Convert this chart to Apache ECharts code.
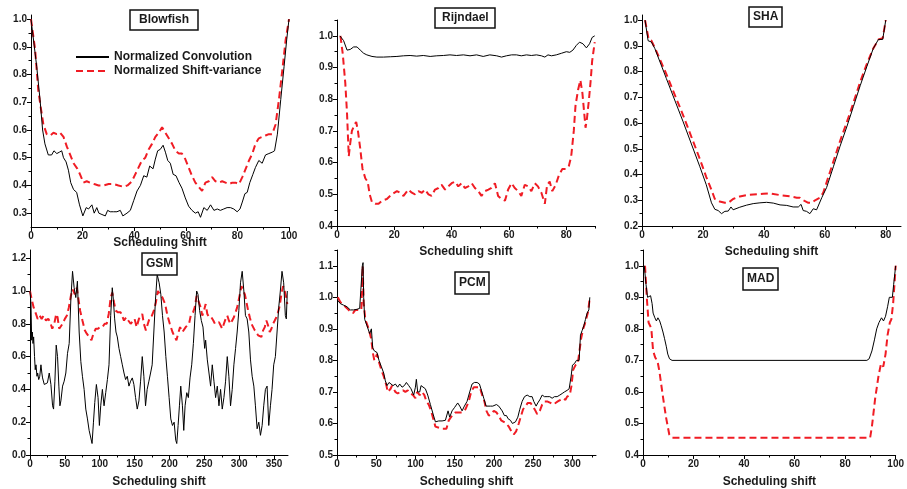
<!DOCTYPE html>
<html>
<head>
<meta charset="utf-8">
<script src="https://cdn.jsdelivr.net/npm/echarts@6/dist/echarts.min.js"></script>
<style>
  html, body { margin: 0; padding: 0; background: #fff; }
  #chart { width: 907px; height: 489px; }
</style>
</head>
<body>
<div id="chart"></div>
<script>
'use strict';

// ---- data ----
var panelNames = ['Blowfish', 'Rijndael', 'SHA', 'GSM', 'PCM', 'MAD'];
var seriesNames = ['Normalized Convolution', 'Normalized Shift-variance'];
var xName = 'Scheduling shift';

var blowfishConv = [[0,1.0],[2.2,0.83],[3.5,0.71],[4.5,0.60],[5.4,0.55],[6.7,0.51],[8.0,0.51],[8.9,0.525],[10.0,0.515],[11.0,0.52],[11.9,0.525],[12.6,0.50],[13.6,0.485],[14.5,0.455],[15.4,0.41],[16.5,0.385],[17.7,0.375],[18.8,0.33],[20.1,0.29],[21.4,0.32],[22.3,0.315],[23.6,0.33],[24.5,0.30],[25.5,0.32],[26.3,0.30],[27.5,0.295],[28.8,0.29],[29.7,0.31],[30.7,0.305],[32.0,0.305],[33.3,0.305],[34.6,0.31],[35.6,0.29],[37.2,0.30],[38.5,0.31],[39.8,0.345],[41.1,0.38],[42.4,0.40],[43.7,0.435],[44.9,0.43],[46.0,0.47],[47.3,0.46],[48.2,0.495],[49.1,0.525],[50.1,0.53],[51.2,0.545],[52.1,0.52],[53.0,0.49],[54.0,0.48],[55.1,0.44],[56.2,0.435],[57.4,0.41],[58.5,0.39],[59.8,0.355],[61.1,0.325],[62.4,0.31],[63.7,0.30],[64.8,0.305],[65.7,0.285],[67.0,0.32],[68.3,0.31],[69.6,0.33],[70.9,0.31],[72.2,0.315],[73.4,0.31],[74.7,0.315],[76.0,0.32],[77.3,0.32],[78.6,0.315],[79.9,0.305],[81.0,0.315],[81.9,0.34],[82.9,0.37],[83.8,0.375],[84.8,0.41],[86.0,0.44],[87.0,0.465],[88.3,0.49],[89.6,0.48],[90.9,0.51],[92.2,0.515],[93.5,0.52],[94.4,0.525],[95.5,0.585],[96.8,0.71],[98.1,0.83],[99.1,0.925],[100,1.0]];
var blowfishShift = [[0,1.0],[1.6,0.89],[2.8,0.745],[3.8,0.68],[4.8,0.62],[6.1,0.585],[7.4,0.58],[8.7,0.59],[10.0,0.585],[11.3,0.59],[12.6,0.575],[13.9,0.54],[15.2,0.51],[16.5,0.48],[18.0,0.46],[19.0,0.44],[20.3,0.41],[21.6,0.415],[22.9,0.41],[24.5,0.405],[26.2,0.40],[28.1,0.40],[30.1,0.405],[32.0,0.405],[33.9,0.40],[35.9,0.395],[37.4,0.40],[39.1,0.415],[40.4,0.44],[41.7,0.465],[43.0,0.49],[44.3,0.50],[45.6,0.53],[46.9,0.55],[48.2,0.575],[49.5,0.59],[50.8,0.61],[52.1,0.59],[53.4,0.57],[54.7,0.55],[56.0,0.525],[57.3,0.515],[58.5,0.515],[59.8,0.495],[61.1,0.465],[62.4,0.435],[63.7,0.41],[65.0,0.395],[66.3,0.38],[67.6,0.41],[68.9,0.415],[70.2,0.43],[71.5,0.415],[72.8,0.41],[74.1,0.415],[75.4,0.41],[76.7,0.405],[78.0,0.41],[79.3,0.41],[80.6,0.405],[81.9,0.43],[83.2,0.46],[84.5,0.49],[85.8,0.515],[87.0,0.55],[88.3,0.57],[89.6,0.575],[90.9,0.58],[92.2,0.585],[93.5,0.585],[94.8,0.62],[96.1,0.71],[97.4,0.815],[98.7,0.925],[100,1.0]];

var rijndaelConv = [[1,1.0],[2.3,0.985],[3.5,0.955],[4.6,0.957],[5.8,0.965],[7.0,0.965],[8.1,0.955],[9.3,0.945],[10.4,0.94],[12.2,0.935],[13.9,0.933],[16.2,0.933],[18.6,0.934],[20.9,0.935],[23.2,0.937],[25.5,0.938],[27.8,0.936],[30.1,0.938],[32.5,0.935],[34.8,0.937],[37.1,0.938],[39.4,0.94],[41.7,0.938],[44.1,0.94],[46.4,0.937],[48.7,0.94],[51.0,0.935],[53.3,0.94],[55.7,0.937],[57.4,0.933],[59.1,0.937],[60.9,0.94],[62.6,0.94],[64.3,0.937],[66.1,0.94],[67.8,0.938],[69.6,0.94],[71.3,0.937],[72.5,0.933],[73.6,0.94],[74.8,0.937],[76.5,0.94],[78.3,0.945],[80.0,0.95],[81.2,0.948],[82.3,0.955],[83.5,0.97],[84.6,0.98],[85.8,0.975],[87.0,0.962],[88.1,0.975],[89.0,0.995],[89.9,1.0]];
var rijndaelShift = [[1.2,1.0],[2.0,0.944],[2.9,0.85],[3.5,0.755],[4.1,0.62],[4.6,0.66],[5.2,0.70],[6.1,0.72],[6.7,0.728],[7.3,0.70],[8.1,0.645],[8.9,0.58],[9.9,0.55],[10.7,0.54],[11.4,0.50],[12.2,0.475],[13.3,0.47],[14.5,0.47],[15.7,0.48],[17.4,0.485],[19.1,0.50],[20.9,0.51],[22.0,0.505],[23.2,0.495],[24.9,0.515],[26.1,0.505],[27.2,0.50],[28.4,0.51],[29.6,0.505],[30.7,0.515],[31.9,0.50],[33.0,0.495],[34.2,0.515],[35.4,0.52],[36.5,0.53],[37.7,0.515],[38.8,0.525],[40.0,0.535],[41.2,0.54],[42.3,0.525],[43.5,0.535],[44.6,0.52],[45.8,0.525],[47.0,0.535],[48.1,0.52],[49.3,0.51],[50.4,0.495],[51.6,0.51],[52.8,0.515],[53.9,0.52],[55.1,0.535],[56.2,0.495],[57.4,0.485],[58.6,0.48],[59.7,0.515],[60.9,0.535],[62.0,0.52],[63.2,0.51],[64.3,0.495],[65.5,0.53],[66.7,0.525],[67.8,0.51],[69.0,0.535],[70.1,0.525],[71.3,0.505],[72.5,0.47],[73.3,0.53],[74.2,0.54],[75.1,0.51],[76.3,0.53],[77.4,0.56],[78.6,0.58],[79.8,0.58],[80.9,0.59],[81.7,0.62],[82.6,0.70],[83.2,0.78],[84.1,0.83],[84.9,0.86],[85.6,0.82],[86.0,0.78],[86.7,0.71],[87.2,0.74],[87.9,0.80],[88.5,0.86],[89.0,0.92],[89.9,0.98]];

var shaConv = [[1,1.0],[2,0.92],[3.1,0.915],[4.2,0.89],[8,0.773],[13.5,0.605],[19,0.43],[21.1,0.36],[22.8,0.29],[23.9,0.265],[25,0.26],[26.1,0.248],[27.2,0.257],[28.3,0.258],[29.2,0.274],[29.9,0.263],[32.1,0.273],[34.3,0.281],[36.5,0.287],[38.7,0.29],[40.9,0.292],[43.1,0.289],[45.3,0.282],[47.5,0.28],[49.6,0.274],[51.3,0.274],[52.2,0.284],[52.9,0.26],[54,0.257],[55.1,0.248],[56.2,0.267],[57.3,0.263],[59,0.31],[60.6,0.35],[62.8,0.43],[65,0.51],[67.2,0.585],[69.4,0.665],[71.6,0.745],[73.8,0.82],[75.9,0.89],[77.6,0.925],[79,0.925],[80,1.0]];
var shaShift = [[1,1.0],[2.2,0.925],[3.1,0.92],[4.7,0.88],[8,0.79],[13.5,0.63],[19,0.46],[21.1,0.39],[22.8,0.34],[23.9,0.305],[25.5,0.295],[27.2,0.29],[28.3,0.29],[29.9,0.305],[32.1,0.315],[34.3,0.32],[36.5,0.322],[39.8,0.325],[42,0.327],[45.3,0.32],[48.6,0.315],[50.8,0.31],[51.8,0.31],[52.9,0.30],[54.6,0.29],[55.7,0.29],[56.8,0.30],[58.4,0.31],[59.5,0.33],[61.7,0.41],[65,0.53],[68.3,0.64],[71.6,0.76],[73.8,0.83],[75.9,0.89],[77.6,0.925],[79,0.93],[80,1.0]];

var gsmConv = [[0,1.0],[1.4,0.92],[2.4,0.7],[3.3,0.75],[4.3,0.68],[5.2,0.72],[6.5,0.6],[7.5,0.52],[8.6,0.55],[10,0.48],[11,0.5],[12.5,0.46],[14,0.48],[15.7,0.55],[17,0.5],[18,0.47],[20.5,0.43],[23,0.42],[25,0.44],[27.6,0.5],[30,0.43],[32.4,0.3],[33.8,0.28],[35.7,0.45],[37.6,0.67],[39.5,0.6],[41.4,0.42],[42.9,0.3],[44.3,0.33],[46.7,0.42],[49,0.45],[51.4,0.5],[53.8,0.62],[56.2,0.68],[58.6,0.95],[61,1.12],[63.3,1.02],[65.7,0.96],[68,1.06],[70.5,0.75],[72.9,0.57],[75.2,0.48],[77.6,0.4],[80,0.28],[82.4,0.22],[84.8,0.15],[87,0.16],[89,0.07],[91,0.2],[92.9,0.32],[95.2,0.43],[97.6,0.35],[99.5,0.18],[101.4,0.3],[103.8,0.4],[106.2,0.3],[108.6,0.38],[111,0.46],[113.3,0.55],[115.7,0.85],[118,1.02],[119.5,0.95],[121.4,0.83],[123.3,0.75],[125.2,0.72],[127.6,0.65],[130,0.6],[132.4,0.55],[134.8,0.5],[137.1,0.46],[139.5,0.48],[141.9,0.42],[144.3,0.45],[146.7,0.47],[149,0.43],[151.4,0.35],[153.8,0.28],[156.2,0.33],[158.6,0.45],[161,0.6],[163.3,0.48],[165.7,0.3],[168,0.4],[170.5,0.45],[172.9,0.5],[175.2,0.55],[177.6,0.75],[180,0.95],[182.4,1.1],[185.2,1.05],[187.6,0.98],[190,0.85],[192.4,0.75],[194.8,0.6],[197.1,0.48],[199.5,0.35],[201.9,0.22],[204.3,0.18],[206.7,0.2],[209,0.09],[210.5,0.07],[212.4,0.18],[214.3,0.3],[216.2,0.42],[218.6,0.3],[220.5,0.15],[222.4,0.3],[224.8,0.38],[227.1,0.35],[229.5,0.47],[231.9,0.55],[234.3,0.68],[236.7,0.85],[239,1.0],[240.9,0.98],[243.3,0.88],[245.7,0.82],[248.1,0.78],[250.5,0.65],[251.9,0.7],[254.3,0.58],[256.7,0.5],[259,0.42],[261.4,0.55],[263.8,0.45],[266.2,0.35],[268.6,0.42],[271,0.3],[273.3,0.4],[275.7,0.28],[278.1,0.35],[280.5,0.45],[282.9,0.6],[285.2,0.48],[287.6,0.3],[290,0.4],[292.4,0.55],[294.8,0.65],[297.1,0.75],[299.5,0.88],[301.9,1.05],[304.3,1.12],[306.7,1.0],[309,0.85],[311.4,0.83],[313.8,0.75],[316.2,0.58],[318.6,0.48],[321,0.42],[323.3,0.3],[325.7,0.16],[328.1,0.2],[330.5,0.12],[332.9,0.18],[335.2,0.3],[337.6,0.4],[340,0.42],[342.4,0.18],[344.8,0.3],[347.1,0.4],[349.5,0.55],[351.9,0.6],[354.3,0.75],[356.7,0.9],[359,1.0],[361.4,1.12],[363.8,1.05],[366.2,0.85],[367.6,0.83],[369,1.0]];
var gsmShift = [[0,1.0],[2.4,0.95],[5.2,0.9],[8.6,0.86],[11,0.83],[13.8,0.85],[16.7,0.83],[19.5,0.85],[22.9,0.82],[26.2,0.83],[29,0.81],[31.9,0.77],[34.8,0.8],[37.6,0.86],[39.5,0.84],[41.9,0.77],[44.3,0.78],[46.7,0.8],[50,0.83],[52.9,0.85],[55.7,0.9],[58.6,0.97],[61,1.01],[64.3,0.98],[67.1,1.02],[69.5,0.95],[71.9,0.88],[75.2,0.82],[78.6,0.76],[81.4,0.74],[84.8,0.72],[88.1,0.7],[91,0.74],[94.3,0.77],[97.6,0.77],[100.5,0.78],[103.8,0.78],[107.1,0.8],[110,0.8],[112.9,0.86],[115.7,0.96],[118,0.99],[120.5,0.93],[122.9,0.88],[126.2,0.87],[130,0.87],[134.8,0.82],[138.1,0.84],[141,0.82],[144.3,0.8],[147.1,0.79],[150,0.83],[152.9,0.78],[156.2,0.83],[158.6,0.82],[161,0.86],[163.3,0.8],[166.2,0.76],[169,0.8],[171.9,0.84],[174.8,0.85],[177.6,0.88],[180.5,0.93],[183.3,1.0],[185.2,1.0],[190,0.96],[193.8,0.92],[197.1,0.85],[200.5,0.8],[204.3,0.75],[207.6,0.72],[210,0.7],[212.4,0.74],[215.2,0.78],[218.6,0.75],[221,0.74],[223.3,0.78],[225.7,0.77],[228.1,0.8],[230.5,0.85],[233.8,0.87],[236.2,0.9],[239,0.97],[241.4,0.96],[244.8,0.9],[247.1,0.85],[249.5,0.88],[251.9,0.92],[254.3,0.86],[256.7,0.84],[260,0.84],[262.9,0.82],[265.2,0.8],[267.6,0.79],[271,0.81],[273.3,0.8],[275.7,0.77],[278.1,0.8],[280.5,0.83],[282.9,0.85],[285.2,0.82],[287.6,0.8],[290,0.82],[292.4,0.84],[294.8,0.83],[297.1,0.9],[300.5,0.97],[303.3,1.03],[305.7,1.04],[308.1,0.98],[310.5,0.93],[312.9,0.88],[315.2,0.84],[317.6,0.8],[320,0.78],[322.4,0.76],[324.8,0.75],[327.1,0.73],[329.5,0.72],[331.9,0.72],[334.3,0.76],[336.7,0.78],[339,0.82],[341.4,0.79],[343.8,0.75],[346.2,0.77],[348.6,0.8],[351,0.82],[353.3,0.84],[355.7,0.87],[358.1,0.91],[360.5,0.98],[362.9,1.03],[365.2,1.0],[367.6,0.96],[369,0.92]];

var pcmConv = [[1,0.99],[4.2,0.98],[8.5,0.975],[12.7,0.97],[17,0.96],[21.2,0.96],[25.5,0.962],[28.9,0.965],[31,0.97],[32.3,1.1],[33.2,1.11],[34,1.0],[35.3,0.93],[38.2,0.91],[41.6,0.885],[43.8,0.9],[45.5,0.84],[47.6,0.83],[51,0.825],[53.5,0.8],[56.5,0.78],[59.5,0.76],[61.6,0.735],[63.7,0.72],[66.3,0.73],[68.8,0.725],[71.4,0.72],[74.4,0.725],[77.3,0.715],[79.9,0.725],[82.9,0.715],[85.8,0.72],[88.4,0.73],[91.4,0.72],[94.3,0.71],[97.7,0.69],[99.9,0.715],[101.1,0.74],[102.8,0.7],[105.4,0.7],[107.1,0.72],[109.6,0.715],[112.6,0.71],[115.6,0.69],[119,0.66],[122.4,0.63],[125.4,0.605],[129.6,0.608],[133.9,0.608],[138.1,0.61],[140.2,0.61],[141.5,0.64],[143.6,0.62],[146.6,0.64],[149.6,0.65],[152.1,0.655],[153.8,0.665],[156.4,0.655],[159.4,0.64],[162.3,0.655],[165.7,0.67],[169.1,0.7],[172.1,0.725],[175.1,0.73],[178.5,0.73],[181.5,0.725],[184,0.705],[187,0.68],[190,0.655],[192.5,0.65],[195.5,0.655],[198.5,0.655],[201,0.652],[203.1,0.66],[206.1,0.655],[208.2,0.66],[210.4,0.64],[213.3,0.625],[215.9,0.625],[218,0.615],[221,0.61],[223.5,0.6],[225.2,0.595],[227.4,0.605],[230.4,0.62],[232.9,0.645],[235.9,0.67],[238.9,0.685],[242.3,0.69],[245.7,0.685],[248.6,0.685],[250.7,0.67],[253.7,0.655],[255.8,0.665],[258.4,0.675],[261.4,0.69],[264.3,0.685],[267.7,0.685],[271.1,0.685],[274.1,0.68],[277.1,0.685],[280.5,0.685],[283.9,0.69],[286.9,0.695],[289.8,0.7],[293.2,0.705],[295.8,0.71],[298.3,0.75],[300,0.785],[302.6,0.79],[305.1,0.8],[306.8,0.795],[308.5,0.8],[310.2,0.88],[312.4,0.895],[314.5,0.91],[316.6,0.93],[318.7,0.95],[320.9,0.96],[322.1,1.0]];
var pcmShift = [[1,1.0],[4.2,0.985],[8.5,0.975],[12.7,0.965],[17,0.955],[20.4,0.95],[23.4,0.96],[27.6,0.96],[31,0.96],[32.7,1.1],[34,0.98],[36.1,0.93],[40.4,0.9],[43.4,0.87],[46,0.82],[47.6,0.8],[51,0.82],[54,0.79],[56.5,0.77],[59.5,0.75],[63,0.72],[64.6,0.7],[68.3,0.71],[70.1,0.72],[74.4,0.7],[77.3,0.695],[80.7,0.7],[84.2,0.705],[87.1,0.7],[90.1,0.705],[93.5,0.695],[96.9,0.69],[99.9,0.68],[102,0.7],[105.4,0.69],[108.4,0.7],[111.3,0.69],[113.9,0.67],[116.9,0.66],[119.9,0.64],[123.2,0.61],[125.4,0.59],[127.5,0.59],[133.9,0.583],[139.4,0.583],[142.4,0.61],[146.6,0.625],[150.8,0.635],[155.1,0.635],[159.4,0.635],[163.6,0.645],[167.9,0.67],[170.9,0.7],[174.3,0.715],[178.5,0.715],[181.9,0.715],[184.9,0.69],[187.8,0.67],[190.4,0.64],[193.4,0.625],[196.4,0.63],[199.8,0.64],[203.1,0.635],[206.1,0.625],[209.1,0.61],[212.5,0.605],[215.9,0.6],[218.8,0.59],[222.2,0.575],[225.2,0.565],[228.2,0.575],[231.6,0.6],[234.6,0.625],[237.1,0.645],[240.1,0.655],[243.1,0.665],[246.5,0.665],[249.5,0.655],[252.9,0.64],[255,0.63],[258.4,0.64],[261.4,0.66],[264.3,0.67],[267.7,0.67],[272,0.665],[275.4,0.66],[278.4,0.665],[281.3,0.67],[284.7,0.675],[288.1,0.68],[291.1,0.675],[293.2,0.685],[296.6,0.69],[298.8,0.72],[300.9,0.77],[303.9,0.785],[306.8,0.79],[309.3,0.785],[311.1,0.87],[313.6,0.9],[315.7,0.915],[317.9,0.935],[320,0.955],[322.1,1.0]];

var madConv = [[0.5,1.0],[1.2,0.94],[1.8,0.9],[2.5,0.895],[3,0.905],[3.6,0.88],[4,0.85],[4.7,0.835],[5.3,0.825],[5.9,0.835],[6.6,0.825],[7.2,0.81],[7.9,0.79],[8.5,0.77],[9.2,0.745],[9.8,0.72],[10.5,0.705],[11.5,0.7],[88.6,0.7],[89.5,0.705],[90.6,0.73],[91.6,0.765],[92.5,0.8],[93.4,0.82],[94.4,0.835],[95.2,0.825],[96,0.84],[96.8,0.87],[97.5,0.9],[98.1,0.905],[98.7,0.9],[99.2,0.94],[100,1.0]];
var madShift = [[0.8,1.0],[1.5,0.9],[2.2,0.82],[2.8,0.81],[3.3,0.8],[4,0.73],[4.8,0.71],[5.8,0.695],[6.5,0.665],[7.8,0.59],[9.1,0.52],[10.4,0.465],[11.5,0.455],[89.9,0.455],[90.6,0.49],[91.9,0.58],[93.2,0.65],[94.2,0.69],[95.1,0.68],[96,0.72],[96.8,0.78],[97.7,0.82],[98.3,0.83],[99,0.88],[99.6,0.95],[100,1.0]];

// tick values (major / minor) per panel
var xTicks = [[0,20,40,60,80,100],[0,20,40,60,80],[0,20,40,60,80],[0,50,100,150,200,250,300,350],[0,50,100,150,200,250,300],[0,20,40,60,80,100]];
var xMinor = [[10,30,50,70,90],[10,30,50,70,90],[10,30,50,70],[25,75,125,175,225,275,325],[25,75,125,175,225,275,325],[10,30,50,70,90]];
var yTicks = [[0.3,0.4,0.5,0.6,0.7,0.8,0.9,1.0],[0.4,0.5,0.6,0.7,0.8,0.9,1.0],[0.2,0.3,0.4,0.5,0.6,0.7,0.8,0.9,1.0],[0,0.2,0.4,0.6,0.8,1.0,1.2],[0.5,0.6,0.7,0.8,0.9,1.0,1.1],[0.4,0.5,0.6,0.7,0.8,0.9,1.0]];
var yMinor = [[0.35,0.45,0.55,0.65,0.75,0.85,0.95],[0.45,0.55,0.65,0.75,0.85,0.95,1.05],[0.25,0.35,0.45,0.55,0.65,0.75,0.85,0.95],[0.1,0.3,0.5,0.7,0.9,1.1],[0.55,0.65,0.75,0.85,0.95,1.05,1.15],[0.45,0.55,0.65,0.75,0.85,0.95,1.05]];

var convData = [blowfishConv, rijndaelConv, shaConv, gsmConv, pcmConv, madConv];
var shiftData = [blowfishShift, rijndaelShift, shaShift, gsmShift, pcmShift, madShift];

// ---- layout ----
var layout = [
  { grid: { left: 31,  top: 15,  width: 258, height: 212 }, x: [0, 100], y: [0.25, 1.015], gap: 10, t: [130, 10, 4, 9] },
  { grid: { left: 337, top: 20,  width: 258, height: 206 }, x: [0, 90],  y: [0.4, 1.05],   gap: 20, t: [435, 8, 4, 7] },
  { grid: { left: 642, top: 15,  width: 259, height: 211 }, x: [0, 85],  y: [0.2, 1.02],   gap: 20, t: [749, 7, 4, 4] },
  { grid: { left: 30,  top: 250, width: 258, height: 206 }, x: [0, 370], y: [0, 1.25],     gap: 21, t: [142, 253, 5, 4] },
  { grid: { left: 337, top: 250, width: 259, height: 206 }, x: [0, 330], y: [0.5, 1.15],   gap: 21, t: [455, 272, 5, 4] },
  { grid: { left: 643, top: 250, width: 258, height: 206 }, x: [0, 100], y: [0.4, 1.05],   gap: 21, t: [743, 268, 5, 4] }
];

var FONT = '"Liberation Sans", Arial, sans-serif';
var TXT = '#1a1a1a';
var RED = '#f01c24';

var grids = [], xAxes = [], yAxes = [], titles = [], series = [];

layout.forEach(function (p, i) {
  grids.push(p.grid);

  titles.push({
    text: panelNames[i],
    left: p.t[0], top: p.t[1],
    padding: [p.t[2], p.t[3]],
    borderColor: '#111', borderWidth: 1.5,
    backgroundColor: '#fff',
    textStyle: { fontFamily: FONT, fontSize: 12, fontWeight: 'bold', color: TXT }
  });

  // major x axis
  xAxes.push({
    type: 'value', gridIndex: i, min: p.x[0], max: p.x[1],
    name: xName, nameLocation: 'middle', nameGap: p.gap, nameMoveOverlap: false,
    nameTextStyle: { fontFamily: FONT, fontSize: 12, fontWeight: 'bold', color: TXT },
    axisLine: { onZero: false, lineStyle: { color: '#000', width: 1 } },
    axisTick: { length: 4, customValues: xTicks[i], lineStyle: { color: '#000' } },
    axisLabel: { customValues: xTicks[i], margin: 4, fontFamily: FONT, fontSize: 10, fontWeight: 'bold', color: TXT },
    splitLine: { show: false }
  });
  // minor x ticks
  xAxes.push({
    type: 'value', gridIndex: i, min: p.x[0], max: p.x[1], position: 'bottom',
    axisLine: { show: false },
    axisTick: { length: 2.5, customValues: xMinor[i], lineStyle: { color: '#000' } },
    axisLabel: { show: false },
    splitLine: { show: false }
  });

  yAxes.push({
    type: 'value', gridIndex: i, min: p.y[0], max: p.y[1],
    axisLine: { show: true, onZero: false, lineStyle: { color: '#000', width: 1 } },
    axisTick: { show: true, length: 4, customValues: yTicks[i], lineStyle: { color: '#000' } },
    axisLabel: {
      customValues: yTicks[i], margin: 4, fontFamily: FONT, fontSize: 10, fontWeight: 'bold', color: TXT,
      formatter: function (v) { return v.toFixed(1); }
    },
    splitLine: { show: false }
  });
  yAxes.push({
    type: 'value', gridIndex: i, min: p.y[0], max: p.y[1], position: 'left', offset: 0,
    axisLine: { show: false },
    axisTick: { show: true, length: 2.5, customValues: yMinor[i], lineStyle: { color: '#000' } },
    axisLabel: { show: false },
    splitLine: { show: false }
  });

  series.push({
    name: seriesNames[1], type: 'line', xAxisIndex: 2 * i, yAxisIndex: 2 * i,
    data: shiftData[i], symbol: 'none', z: 2,
    itemStyle: { color: RED },
    lineStyle: { color: RED, width: 2, type: [7, 4] }
  });
  series.push({
    name: seriesNames[0], type: 'line', xAxisIndex: 2 * i, yAxisIndex: 2 * i,
    data: convData[i], symbol: 'none', z: 3,
    itemStyle: { color: '#000' },
    lineStyle: { color: '#000', width: 1 }
  });
});

var myChart = echarts.init(document.getElementById('chart'));
myChart.setOption({
  animation: false,
  backgroundColor: '#fff',
  textStyle: { fontFamily: FONT },
  title: titles,
  legend: {
    data: seriesNames,
    orient: 'vertical', left: 75, top: 51, padding: 0,
    itemWidth: 33, itemHeight: 14, itemGap: 2,
    selectedMode: false,
    itemStyle: { color: 'transparent', borderWidth: 0, opacity: 0 },
    textStyle: { fontFamily: FONT, fontSize: 12, fontWeight: 'bold', color: TXT }
  },
  grid: grids,
  xAxis: xAxes,
  yAxis: yAxes,
  series: series
});
</script>
</body>
</html>
